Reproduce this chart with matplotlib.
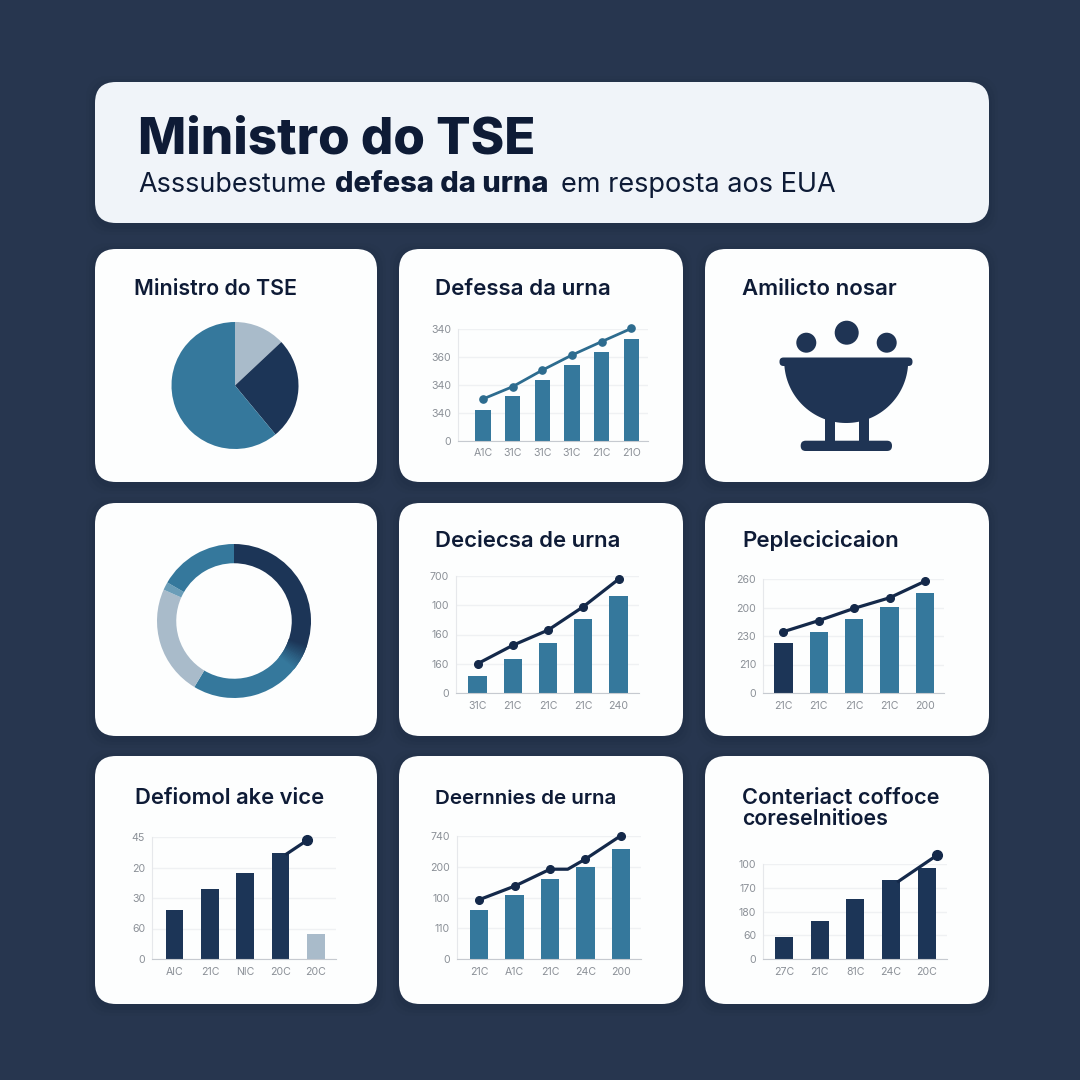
import numpy as np
import matplotlib
matplotlib.use("Agg")
import matplotlib.pyplot as plt
import matplotlib.patches as patches
from matplotlib.colors import to_rgb

plt.rcParams['font.family'] = ['Inter', 'DejaVu Sans']

BG = "#27364f"
NAVY = "#1c3557"
BLUE = "#35789c"
LIGHT = "#a9bbca"
INK = "#0e1b36"
TICK = "#8b9097"

# pie and donut
pie_values = [13, 26, 61]
donut_values = [118, 93, 83, 6, 60]

# defessa da urna
defessa_bars = [1.10, 1.62, 2.19, 2.71, 3.18, 3.66]
defessa_line = [1.50, 1.94, 2.53, 3.07, 3.55, 4.02]
defessa_xlabels = ["A1C", "31C", "31C", "31C", "21C", "21O"]
defessa_ylabels = ["0", "340", "340", "360", "340"]

# deciecsa de urna
deciecsa_bars = [0.57, 1.16, 1.70, 2.52, 3.31]
deciecsa_line = [1.00, 1.63, 2.15, 2.95, 3.89]
deciecsa_xlabels = ["31C", "21C", "21C", "21C", "240"]
deciecsa_ylabels = ["0", "160", "160", "100", "700"]

# peplecicicaion
peple_bars = [1.77, 2.13, 2.60, 3.01, 3.50]
peple_line = [2.15, 2.54, 2.97, 3.34, 3.92]
peple_xlabels = ["21C", "21C", "21C", "21C", "200"]
peple_ylabels = ["0", "210", "230", "200", "260"]

# deformal, the line only covers the last stretch
deform_bars = [1.62, 2.31, 2.82, 3.48, 0.81]
deform_line_x = [3.18, 3.75]
deform_line_y = [3.45, 3.89]
deform_xlabels = ["AIC", "21C", "NIC", "20C", "20C"]
deform_ylabels = ["0", "60", "30", "20", "45"]

# deernnies de urna
deern_bars = [1.60, 2.07, 2.60, 2.98, 3.59]
deern_line_x = [0, 1, 2, 2.5, 3, 4]
deern_line_y = [1.93, 2.37, 2.92, 2.92, 3.25, 4.01]
deern_marker_x = [0, 1, 2, 3, 4]
deern_marker_y = [1.93, 2.37, 2.92, 3.25, 4.01]
deern_xlabels = ["21C", "A1C", "21C", "24C", "200"]
deern_ylabels = ["0", "110", "100", "200", "740"]

# conteriact
conter_bars = [0.94, 1.58, 2.51, 3.31, 3.82]
conter_line_x = [3.21, 4.30]
conter_line_y = [3.27, 4.38]
conter_xlabels = ["27C", "21C", "81C", "24C", "20C"]
conter_ylabels = ["0", "60", "180", "170", "100"]

fig = plt.figure(figsize=(10.8, 10.8), dpi=100, facecolor=BG)
bg = fig.add_axes([0, 0, 1, 1])
bg.set_xlim(0, 1080)
bg.set_ylim(1080, 0)
bg.axis("off")


def card(x0, y0, x1, y1, color="#fdfefe"):
    # soft shadow first
    for grow, alpha in [(9, 0.05), (6, 0.07), (3, 0.10)]:
        bg.add_patch(patches.FancyBboxPatch((x0 - grow, y0 - grow + 3), x1 - x0 + 2 * grow, y1 - y0 + 2 * grow,
                                            boxstyle="round,pad=0,rounding_size=24", fc="#16233a", ec="none", alpha=alpha))
    bg.add_patch(patches.FancyBboxPatch((x0, y0), x1 - x0, y1 - y0, boxstyle="round,pad=0,rounding_size=21",
                                        fc=color, ec="none"))


def title(x, y, txt, size):
    bg.text(x, y, txt, fontsize=size, fontweight=600, color=INK, va="baseline", ha="left")


def px_axes(x0, y0, x1, y1):
    return fig.add_axes([x0 / 1080, 1 - y1 / 1080, (x1 - x0) / 1080, (y1 - y0) / 1080], facecolor="none")


def bar_chart(rect, xlim, bars, xlabels, ylabels, colors, width=0.52, xpad=6):
    ax = px_axes(*rect)
    ax.bar(range(len(bars)), bars, width=width, color=colors, zorder=2)
    ax.set_xlim(*xlim)
    ax.set_ylim(0, 4)
    ax.set_xticks(range(len(bars)))
    ax.set_xticklabels(xlabels)
    ax.set_yticks(range(5))
    ax.set_yticklabels(ylabels)
    ax.tick_params(length=0, labelsize=7.6, labelcolor=TICK)
    ax.tick_params(axis="x", pad=xpad)
    ax.tick_params(axis="y", pad=5)
    ax.grid(axis="y", color="#eff1f3", lw=1, zorder=0)
    for s in ["top", "right"]:
        ax.spines[s].set_visible(False)
    ax.spines["left"].set_color("#e6e8eb")
    ax.spines["bottom"].set_color("#c6cad0")
    return ax


# header
card(95, 82, 989, 223, color="#f0f4f9")
bg.text(138, 154, "Ministro do TSE", fontsize=36.8, fontweight=800, color=INK)
bg.text(138, 192, "Asssubestume", fontsize=19.4, color=INK)
bg.text(335, 192, "defesa da urna", fontsize=20.9, fontweight=800, color=INK)
bg.text(561, 192, "em resposta aos EUA", fontsize=19.5, color=INK)

# cards
columns = [(95, 377), (399, 683), (705, 989)]
rows = [(249, 482), (503, 736), (756, 1004)]
for r0, r1 in rows:
    for c0, c1 in columns:
        card(c0, r0, c1, r1)

title(134, 295, "Ministro do TSE", 15.4)
title(435, 295, "Defessa da urna", 16.1)
title(742, 295, "Amilicto nosar", 16.0)
title(435, 547, "Deciecsa de urna", 15.9)
title(742, 547, "Peplecicicaion", 16.0)
title(135, 804, "Defiomol ake vice", 15.8)
title(435, 804, "Deernnies de urna", 14.8)
title(742, 804, "Conteriact coffoce", 15.6)
title(742, 825, "coreselnitioes", 15.4)

# pie
ax = px_axes(171.5, 322, 298.5, 449)
ax.pie(pie_values, colors=[LIGHT, NAVY, BLUE], startangle=90, counterclock=False, radius=1)
ax.set_xlim(-1, 1)
ax.set_ylim(-1, 1)

# donut
ax = px_axes(157, 544, 311, 698)
ax.pie(donut_values, colors=[NAVY, BLUE, LIGHT, "#6a9db8", BLUE], startangle=90, counterclock=False, radius=1,
       wedgeprops={"width": 0.25})
ax.set_xlim(-1, 1)
ax.set_ylim(-1, 1)
# the navy part fades into the blue one
for i, a in enumerate(np.linspace(-18, -38, 20)):
    f = i / 19
    c = (1 - f) * np.array(to_rgb(NAVY)) + f * np.array(to_rgb(BLUE))
    ax.add_patch(patches.Wedge((0, 0), 1, a - 1.2, a + 0.2, width=0.25, fc=c, ec="none"))

# cauldron icon
ICON = "#1f3454"
for cx, cy, r in [(806.3, 342.7, 10), (846.7, 332.7, 12), (886.7, 342.7, 10)]:
    bg.add_patch(patches.Circle((cx, cy), r, fc=ICON, ec="none"))
t = np.linspace(0, np.pi, 80)
bg.add_patch(patches.Polygon(np.column_stack([846.2 + 62 * np.cos(t), 361 + 62 * np.sin(t)]), fc=ICON, ec="none"))
bg.add_patch(patches.FancyBboxPatch((779.5, 357.5), 133, 8.5, boxstyle="round,pad=0,rounding_size=4", fc=ICON, ec="none"))
bg.add_patch(patches.Rectangle((825, 418), 10, 25, fc=ICON, ec="none"))
bg.add_patch(patches.Rectangle((858.5, 418), 10, 25, fc=ICON, ec="none"))
bg.add_patch(patches.FancyBboxPatch((800.7, 440.7), 91.3, 10.3, boxstyle="round,pad=0,rounding_size=5", fc=ICON, ec="none"))

# defessa
ax = bar_chart((458, 329, 648, 441), (-0.84, 5.56), defessa_bars, defessa_xlabels, defessa_ylabels, BLUE, xpad=5)
ax.plot(range(6), defessa_line, color="#2d6c8f", lw=2, marker="o", ms=5.2, clip_on=False, zorder=3)

# deciecsa
ax = bar_chart((456, 576, 639, 693), (-0.61, 4.58), deciecsa_bars, deciecsa_xlabels, deciecsa_ylabels, BLUE)
ax.plot(range(5), deciecsa_line, color="#14294a", lw=2.3, marker="o", ms=5.5, clip_on=False, zorder=3)

# peple
ax = bar_chart((763, 579, 944, 693), (-0.575, 4.54), peple_bars, peple_xlabels, peple_ylabels,
               [NAVY, BLUE, BLUE, BLUE, BLUE])
ax.plot(range(5), peple_line, color="#14294a", lw=2.3, marker="o", ms=5.5, clip_on=False, zorder=3)

# deform
ax = bar_chart((152, 837, 336, 959), (-0.64, 4.57), deform_bars, deform_xlabels, deform_ylabels,
               [NAVY, NAVY, NAVY, NAVY, LIGHT], width=0.5)
ax.plot(deform_line_x, deform_line_y, color="#14294a", lw=2.3, zorder=3, clip_on=False)
ax.plot(deform_line_x[-1:], deform_line_y[-1:], color="#14294a", marker="o", ms=7, zorder=3, clip_on=False)

# deernnies
ax = bar_chart((457, 836, 641, 959), (-0.63, 4.57), deern_bars, deern_xlabels, deern_ylabels, BLUE)
ax.plot(deern_line_x, deern_line_y, color="#14294a", lw=2.3, zorder=3, clip_on=False)
ax.plot(deern_marker_x, deern_marker_y, ls="none", color="#14294a", marker="o", ms=5.5, zorder=3, clip_on=False)

# conteriact
ax = bar_chart((763, 864, 947, 959), (-0.59, 4.57), conter_bars, conter_xlabels, conter_ylabels, NAVY, width=0.5)
ax.plot(conter_line_x, conter_line_y, color="#14294a", lw=2.3, zorder=3, clip_on=False)
ax.plot(conter_line_x[-1:], conter_line_y[-1:], color="#14294a", marker="o", ms=7, zorder=3, clip_on=False)

fig.savefig("out.png", dpi=100, facecolor=BG)
